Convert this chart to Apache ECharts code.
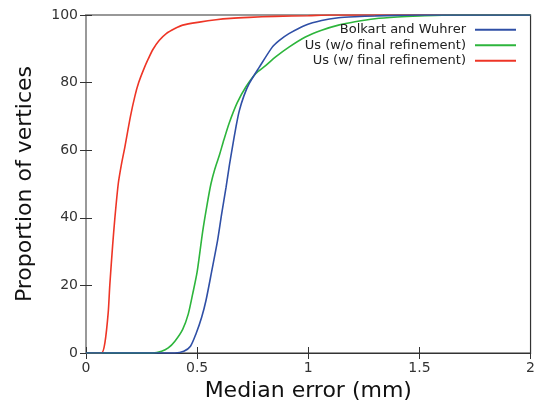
<!DOCTYPE html>
<html><head><meta charset="utf-8">
<script src="https://cdn.jsdelivr.net/npm/echarts@6/dist/echarts.min.js"></script>
<style>html,body{margin:0;padding:0;background:#fff}#c{width:538px;height:407px}</style>
</head><body><div id="c"></div>
<script>
const seriesNames = ['Bolkart and Wuhrer', 'Us (w/o final refinement)', 'Us (w/ final refinement)'];
const seriesColors = ['#2f4fa6', '#2db53c', '#ee3526'];
const xTicks = [0, 0.5, 1, 1.5, 2];
const yTicks = [0, 20, 40, 60, 80, 100];
const bolkart = [[0,0],[0.4,0],[0.44,0.5],[0.47,2],[0.495,5.7],[0.52,10.5],[0.54,15.6],[0.565,24],[0.592,33.3],[0.61,41],[0.63,49],[0.645,55.5],[0.659,61],[0.675,67],[0.689,71.5],[0.71,76],[0.734,79.7],[0.779,84.5],[0.838,90.5],[0.87,92.5],[0.913,94.5],[0.987,97],[1.06,98.4],[1.136,99.2],[1.21,99.5],[1.3,99.7],[1.4,99.9],[1.5,100],[2,100]];
const usNoRefine = [[0,0],[0.3,0],[0.34,0.5],[0.37,1.5],[0.4,3.5],[0.435,7],[0.46,11.5],[0.48,17.5],[0.5,24],[0.525,36],[0.545,44],[0.562,50],[0.58,54.5],[0.6,58.5],[0.62,63],[0.644,68],[0.68,74],[0.719,78.7],[0.764,82.7],[0.808,85],[0.853,87.6],[0.913,90.5],[0.987,93.5],[1.06,95.5],[1.136,97],[1.21,98],[1.3,98.9],[1.4,99.4],[1.5,99.7],[1.65,100],[2,100]];
const usRefine = [[0,0],[0.07,0],[0.085,3],[0.1,12],[0.107,20],[0.12,32],[0.13,40],[0.145,50],[0.16,56],[0.175,61],[0.2,70],[0.22,76],[0.237,80],[0.26,84],[0.28,87],[0.301,89.8],[0.33,92.5],[0.361,94.5],[0.4,96],[0.435,97],[0.51,97.9],[0.585,98.6],[0.65,99],[0.734,99.3],[0.85,99.6],[1.0,99.8],[1.1,100],[2,100]];
const allData = [bolkart, usNoRefine, usRefine];

const font = 'DejaVu Sans';
const chart = echarts.init(document.getElementById('c'), null, {renderer:'canvas'});
const tickFmt = v => String(v);
chart.setOption({
  animation: false,
  textStyle: {fontFamily: font},
  grid: {left: 86, right: 5, top: 15, bottom: 54, show: true, borderColor: '#333', borderWidth: 1.2},
  legend: {
    orient: 'vertical', right: 17, top: 17, align: 'right', itemGap: 0,
    itemWidth: 41, itemHeight: 2, icon: 'rect',
    textStyle: {fontFamily: font, fontSize: 13, color: '#222', lineHeight: 15.5, padding: [0, 4, 0, 0]},
    data: seriesNames
  },
  xAxis: [{
    type: 'value', min: xTicks[0], max: xTicks[xTicks.length-1], interval: 0.5,
    name: 'Median error (mm)', nameLocation: 'middle', nameGap: 25,
    nameTextStyle: {fontFamily: font, fontSize: 22, color: '#111'},
    axisLine: {show: true, lineStyle: {color: '#333', width: 1.2}},
    axisTick: {show: true, inside: true, length: 6, lineStyle: {color: '#333'}},
    axisLabel: {fontFamily: font, fontSize: 14, color: '#333', margin: 8, formatter: tickFmt},
    splitLine: {show: false}
  }, {
    type: 'value', position: 'top', min: 0, max: 2, interval: 0.5,
    axisLine: {show: true, lineStyle: {color: '#333', width: 1.2}},
    axisTick: {show: true, inside: true, length: 6, lineStyle: {color: '#333'}},
    axisLabel: {show: false}, splitLine: {show: false}
  }],
  yAxis: [{
    type: 'value', min: yTicks[0], max: yTicks[yTicks.length-1], interval: 20,
    name: 'Proportion of vertices', nameLocation: 'middle', nameGap: 50,
    nameTextStyle: {fontFamily: font, fontSize: 22, color: '#111'},
    axisLine: {show: true, lineStyle: {color: '#999', width: 2}},
    axisTick: {show: true, inside: true, length: 6, lineStyle: {color: '#333'}},
    axisLabel: {fontFamily: font, fontSize: 14, color: '#333', margin: 8},
    splitLine: {show: false}
  }, {
    type: 'value', position: 'right', min: 0, max: 100, interval: 20,
    axisLine: {show: true, lineStyle: {color: '#999', width: 2}},
    axisTick: {show: true, inside: true, length: 6, lineStyle: {color: '#333'}},
    axisLabel: {show: false}, splitLine: {show: false}
  }],
  series: seriesNames.map((n, i) => ({
    name: n, type: 'line', data: allData[i], showSymbol: false, symbol: 'none',
    smooth: 0.25, color: seriesColors[i], lineStyle: {width: 1.6, color: seriesColors[i]},
    z: 3 - i
  }))
});
</script></body></html>
